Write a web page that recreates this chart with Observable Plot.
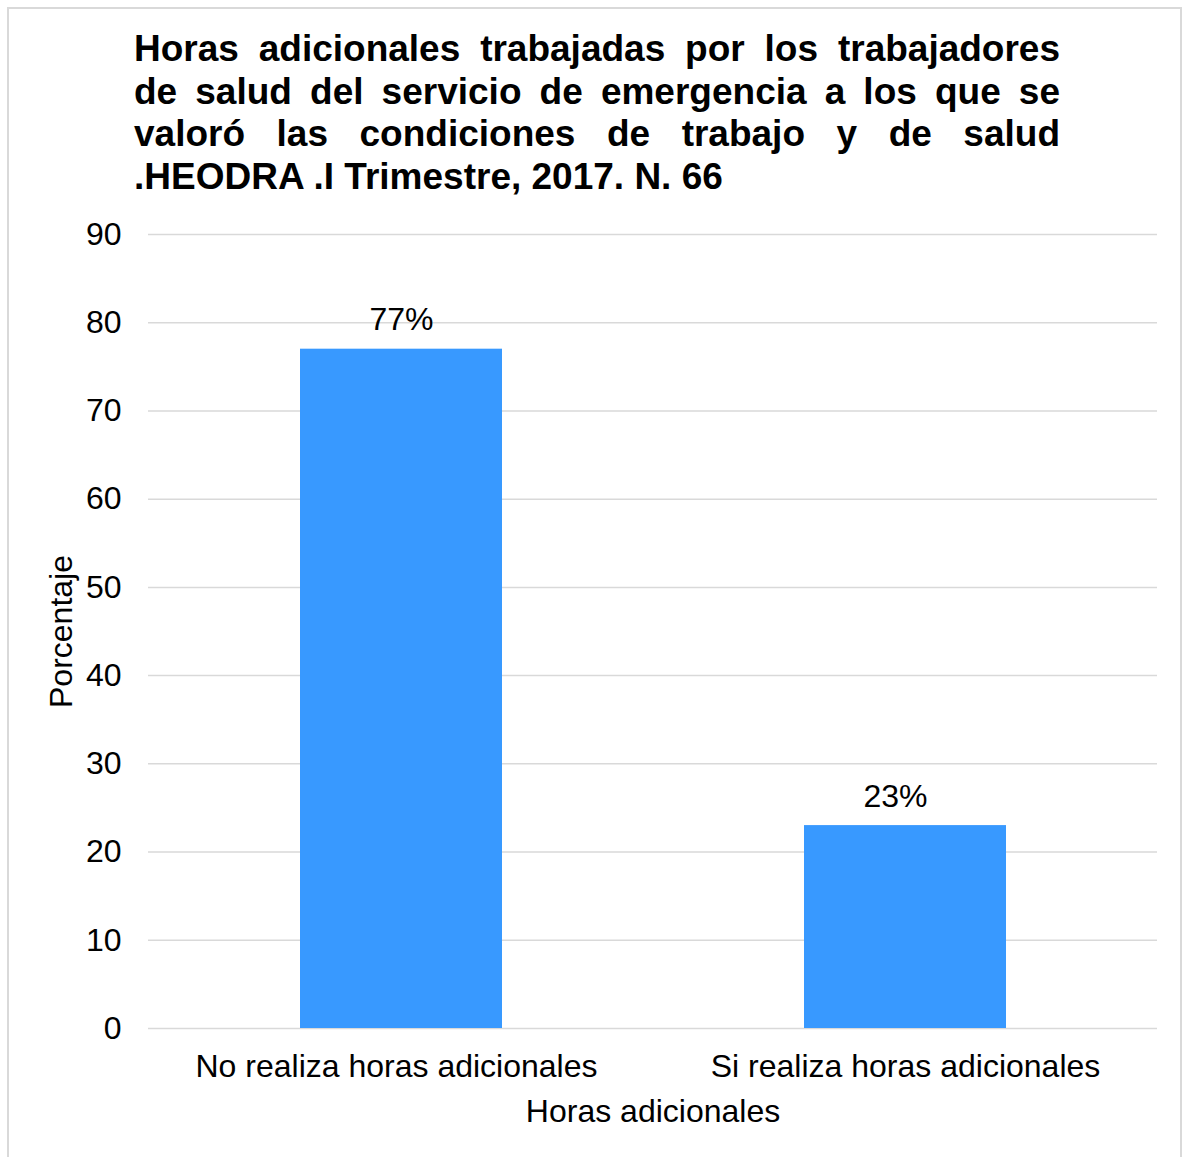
<!DOCTYPE html>
<html>
<head>
<meta charset="utf-8">
<script src="https://cdn.jsdelivr.net/npm/d3@7"></script>
<script src="https://cdn.jsdelivr.net/npm/@observablehq/plot@0.6"></script>
<style>
  body { margin: 0; background: #fff; font-family: "Liberation Sans", Arial, sans-serif; }
  #frame { position: absolute; left: 7px; top: 7px; width: 1175px; height: 1170px; border: 2px solid #d9d9d9; box-sizing: border-box; }
  #title { position: absolute; left: 134px; top: 28px; width: 926px; font-weight: bold; font-size: 37px; line-height: 42.7px; color: #000; }
  #title .j { text-align: justify; text-align-last: justify; }
  #title .l { text-align: left; }
  #chart { position: absolute; left: 0; top: 200px; }
</style>
</head>
<body>
<div id="frame"></div>
<div id="title"></div>
<div id="chart"></div>
<script>
const titleLines = [
  "Horas adicionales trabajadas por los trabajadores",
  "de salud del servicio de emergencia a los que  se",
  "valoró las condiciones de trabajo y de salud",
  ".HEODRA .I Trimestre, 2017. N. 66"
];
const categories = ["No realiza horas adicionales", "Si realiza horas adicionales"];
const values = [77, 23];
const valueLabels = ["77%", "23%"];
const yTicks = [0, 10, 20, 30, 40, 50, 60, 70, 80, 90];
const xTitle = "Horas adicionales";
const yTitle = "Porcentaje";

const titleEl = document.getElementById("title");
titleLines.forEach((t, i) => {
  const d = document.createElement("div");
  d.className = i < titleLines.length - 1 ? "j" : "l";
  d.textContent = t;
  titleEl.appendChild(d);
});

const data = categories.map((c, i) => ({cat: c, value: values[i], label: valueLabels[i]}));

const chart = Plot.plot({
  width: 1186,
  height: 940,
  marginTop: 34,
  marginBottom: 112,
  marginLeft: 148,
  marginRight: 29,
  style: {fontFamily: "'Liberation Sans', Arial, sans-serif", fontSize: "32px", color: "#000", background: "transparent", overflow: "visible"},
  x: {domain: categories, paddingInner: 0.6, paddingOuter: 0.3},
  y: {domain: [0, 90]},
  marks: [
    Plot.gridY(yTicks, {stroke: "#d9d9d9", strokeOpacity: 1, strokeWidth: 1.5}),
    Plot.barY(data, {x: "cat", y: "value", fill: "#3899ff"}),
    Plot.text(data.slice(0, 1), {x: "cat", y: "value", text: "label", dy: -29, fontSize: 32, fill: "#000"}),
    Plot.text(data.slice(1), {x: "cat", y: "value", text: "label", dy: -29, dx: -10, fontSize: 32, fill: "#000"}),
    Plot.axisY(yTicks, {tickSize: 0, tickPadding: 27, label: yTitle, labelAnchor: "center", labelArrow: "none", labelOffset: 99, fontSize: 32}),
    Plot.axisX(categories.slice(0, 1), {tickSize: 0, tickPadding: 26, dx: -5, label: null, fontSize: 32}),
    Plot.axisX(categories.slice(1), {tickSize: 0, tickPadding: 26, label: xTitle, labelAnchor: "center", labelArrow: "none", labelOffset: 93, fontSize: 32})
  ]
});
document.getElementById("chart").appendChild(chart);
</script>
</body>
</html>
